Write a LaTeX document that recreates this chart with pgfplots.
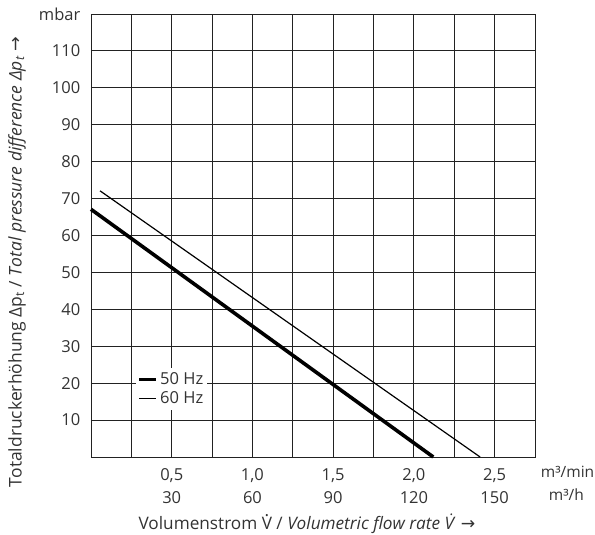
\documentclass[border=0pt]{standalone}
\usepackage{pgfplots}
\pgfplotsset{compat=1.18}
\usepackage{fontspec}
\setmainfont{Open Sans}
\newfontfamily\dejavu{DejaVu Sans}
\definecolor{txt}{HTML}{333333}
\definecolor{gridc}{HTML}{222222}
\newcommand\Vdot{\setbox0\hbox{V}\rlap{\hbox to \wd0{\hss\raisebox{0.78em}{.}\hss}}V}
\begin{document}
\fontsize{16.5}{24}\selectfont
\begin{tikzpicture}
\useasboundingbox (-91pt,-78pt) rectangle (504pt,457pt);
\begin{axis}[
  scale only axis,
  width=444pt, height=443pt,
  xmin=0, xmax=2.75, ymin=0, ymax=120,
  axis line style={gridc, line width=0.9pt},
  xtick={0.5,1.0,1.5,2.0,2.5},
  xticklabels={{0,5\\30},{1,0\\60},{1,5\\90},{2,0\\120},{2,5\\150}},
  minor xtick={0.25,0.75,1.25,1.75,2.25},
  ytick={10,20,...,120},
  yticklabels={10,20,30,40,50,60,70,80,90,100,110,\raisebox{-5pt}{mbar}},
  grid=both,
  major grid style={gridc, line width=0.9pt},
  minor grid style={gridc, line width=0.9pt},
  major tick length=0pt, minor tick length=0pt,
  tick label style={font=\fontsize{16.5}{23}\selectfont, text=txt},
  xticklabel style={align=center, yshift=-6pt},
  yticklabel style={xshift=-5pt},
  /pgf/number format/assume math mode=true,
  xlabel={Volumenstrom \Vdot\ / \textit{Volumetric flow rate V̇} {\dejavu →}},
  xlabel style={font=\fontsize{17.2}{19}\selectfont, text=txt, yshift=1pt, xshift=-6pt},
  ylabel={Totaldruckerhöhung Δp\textsubscript{t} / \textit{Total pressure difference Δp\textsubscript{t}} {\dejavu →}},
  ylabel style={font=\fontsize{17.5}{19}\selectfont, text=txt, at={(ticklabel cs:0.44)}, yshift=2pt},
  legend style={at={(axis cs:0.275,24.1)}, anchor=north west, draw=none, fill=white,
    font=\fontsize{16.5}{18}\selectfont, text=txt, inner xsep=2pt, inner ysep=2pt, row sep=1pt},
  legend cell align=left,
  legend image code/.code={\draw[#1] (0pt,0pt) -- (17pt,0pt);},
  clip=false,
]
\addplot[black, line width=3.6pt] coordinates {(0,67.1) (2.12,0)};
\addlegendentry{50 Hz}
\addplot[black, line width=1.2pt] coordinates {(0.056,72.1) (2.41,0)};
\addlegendentry{60 Hz}
\node[anchor=west, inner sep=0pt, text=txt, font=\fontsize{15.5}{19}\selectfont] at (axis cs:2.785,0) [yshift=-15pt] {m³/min};
\node[anchor=west, inner sep=0pt, text=txt, font=\fontsize{15.5}{19}\selectfont] at (axis cs:2.835,0) [yshift=-38pt] {m³/h};
\end{axis}
\end{tikzpicture}
\end{document}
